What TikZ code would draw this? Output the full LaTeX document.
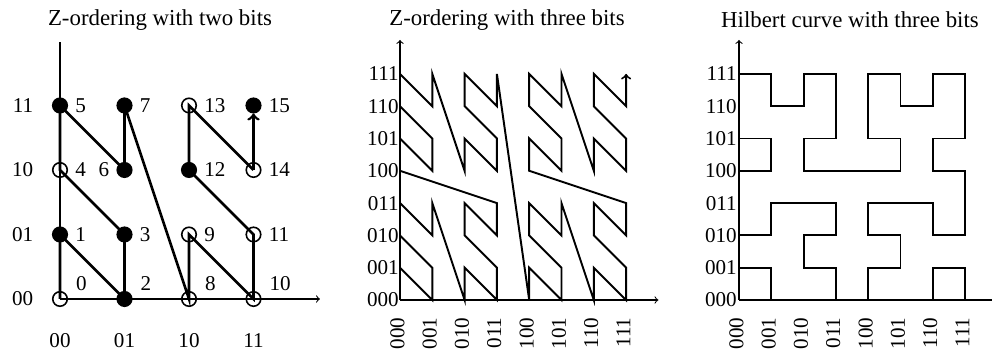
\documentclass[tikz,border=0pt]{standalone}
\usepackage{fontspec}
\setmainfont{Liberation Serif}
\usetikzlibrary{positioning}
\tikzset{
  axis/.style={line width=0.6pt},
  zpath/.style={line width=1.5pt},
  curve/.style={line width=1.1pt},
  dot/.style={circle,draw,fill=black,inner sep=0pt,minimum size=0.29cm,line width=0.9pt},
  hole/.style={circle,draw,inner sep=0pt,minimum size=0.29cm,line width=0.9pt},
  tick/.style={inner sep=0pt,font=\fontsize{12}{14}\selectfont},
  heading/.style={inner sep=0pt,font=\fontsize{13}{15}\selectfont}
}
\begin{document}
\begin{tikzpicture}
\useasboundingbox (0,0) rectangle (19.84,7.08);
\node[heading] (t1) at (3.2,6.68) {Z-ordering with two bits};
\node[heading] (t2) at (10.14,6.68) {Z-ordering with three bits};
\node[heading] (t3) at (17.0,6.68) {Hilbert curve with three bits};

\begin{scope}[shift={(1.2,1.1)},x=1.29cm,y=1.29cm]
	\draw[axis] (0,0) -- (0,3.98);
	\draw[axis,->] (0,0) -- (4.03,0);
	\node[hole] (p0) at (0,0) {};
	\node[dot] (p1) at (0,1) {};
	\node[dot] (p2) at (1,0) {};
	\node[dot] (p3) at (1,1) {};
	\node[hole] (p4) at (0,2) {};
	\node[dot] (p5) at (0,3) {};
	\node[dot] (p6) at (1,2) {};
	\node[dot] (p7) at (1,3) {};
	\node[hole] (p8) at (2,0) {};
	\node[hole] (p9) at (2,1) {};
	\node[hole] (p10) at (3,0) {};
	\node[hole] (p11) at (3,1) {};
	\node[dot] (p12) at (2,2) {};
	\node[hole] (p13) at (2,3) {};
	\node[hole] (p14) at (3,2) {};
	\node[dot] (p15) at (3,3) {};
	\draw[zpath] (p0.center) -- (p1.center) -- (p2.center) -- (p3.center)
		-- (p4.center) -- (p5.center) -- (p6.center) -- (p7.center)
		-- (p8.center) -- (p9.center) -- (p10.center) -- (p11.center)
		-- (p12.center) -- (p13.center) -- (p14.center);
	\draw[zpath,->] (p14.center) -- (p15.south);
	\node[tick,above right=0.04cm and 0.2cm of p0] (n0) {0};
	\node[tick,right=0.14cm of p1] (n1) {1};
	\node[tick,above right=0.04cm and 0.2cm of p2] (n2) {2};
	\node[tick,right=0.14cm of p3] (n3) {3};
	\node[tick,right=0.14cm of p4] (n4) {4};
	\node[tick,right=0.14cm of p5] (n5) {5};
	\node[tick,left=0.14cm of p6] (n6) {6};
	\node[tick,right=0.14cm of p7] (n7) {7};
	\node[tick,above right=0.04cm and 0.2cm of p8] (n8) {8};
	\node[tick,right=0.14cm of p9] (n9) {9};
	\node[tick,above right=0.04cm and 0.2cm of p10] (n10) {10};
	\node[tick,right=0.14cm of p11] (n11) {11};
	\node[tick,right=0.14cm of p12] (n12) {12};
	\node[tick,right=0.14cm of p13] (n13) {13};
	\node[tick,right=0.14cm of p14] (n14) {14};
	\node[tick,right=0.14cm of p15] (n15) {15};
	\node[tick,anchor=east] (r00) at (-0.41,0) {00};
	\node[tick,anchor=east] (r01) at (-0.41,1) {01};
	\node[tick,anchor=east] (r10) at (-0.41,2) {10};
	\node[tick,anchor=east] (r11) at (-0.41,3) {11};
	\node[tick] (c00) at (0,-0.65) {00};
	\node[tick] (c01) at (1,-0.65) {01};
	\node[tick] (c10) at (2,-0.65) {10};
	\node[tick] (c11) at (3,-0.65) {11};
\end{scope}

\begin{scope}[shift={(8.0,1.08)},x=0.646cm,y=0.646cm]
	\draw[curve,->] (0,0) -- (0,1) -- (1,0) -- (1,1) -- (0,2) -- (0,3) -- (1,2) -- (1,3)
		-- (2,0) -- (2,1) -- (3,0) -- (3,1) -- (2,2) -- (2,3) -- (3,2) -- (3,3)
		-- (0,4) -- (0,5) -- (1,4) -- (1,5) -- (0,6) -- (0,7) -- (1,6) -- (1,7)
		-- (2,4) -- (2,5) -- (3,4) -- (3,5) -- (2,6) -- (2,7) -- (3,6) -- (3,7)
		-- (4,0) -- (4,1) -- (5,0) -- (5,1) -- (4,2) -- (4,3) -- (5,2) -- (5,3)
		-- (6,0) -- (6,1) -- (7,0) -- (7,1) -- (6,2) -- (6,3) -- (7,2) -- (7,3)
		-- (4,4) -- (4,5) -- (5,4) -- (5,5) -- (4,6) -- (4,7) -- (5,6) -- (5,7)
		-- (6,4) -- (6,5) -- (7,4) -- (7,5) -- (6,6) -- (6,7) -- (7,6) -- (7,7);
	\draw[axis,->] (0,0) -- (8,0);
	\draw[axis,->] (0,0) -- (0,8.05);
	\node[tick,anchor=east] (zr000) at (-0.03,0) {000};
	\node[tick,anchor=east] (zr001) at (-0.03,1) {001};
	\node[tick,anchor=east] (zr010) at (-0.03,2) {010};
	\node[tick,anchor=east] (zr011) at (-0.03,3) {011};
	\node[tick,anchor=east] (zr100) at (-0.03,4) {100};
	\node[tick,anchor=east] (zr101) at (-0.03,5) {101};
	\node[tick,anchor=east] (zr110) at (-0.03,6) {110};
	\node[tick,anchor=east] (zr111) at (-0.03,7) {111};
	\node[tick,rotate=90,anchor=east] (zc000) at (-0.08,-0.53) {000};
	\node[tick,rotate=90,anchor=east] (zc001) at (0.92,-0.53) {001};
	\node[tick,rotate=90,anchor=east] (zc010) at (1.92,-0.53) {010};
	\node[tick,rotate=90,anchor=east] (zc011) at (2.92,-0.53) {011};
	\node[tick,rotate=90,anchor=east] (zc100) at (3.92,-0.53) {100};
	\node[tick,rotate=90,anchor=east] (zc101) at (4.92,-0.53) {101};
	\node[tick,rotate=90,anchor=east] (zc110) at (5.92,-0.53) {110};
	\node[tick,rotate=90,anchor=east] (zc111) at (6.92,-0.53) {111};
\end{scope}

\begin{scope}[shift={(14.78,1.08)},x=0.646cm,y=0.646cm]
	\draw[curve] (0,0) -- (0,1) -- (1,1) -- (1,0) -- (3,0) -- (3,1) -- (2,1) -- (2,2)
		-- (3,2) -- (3,3) -- (1,3) -- (1,2) -- (0,2) -- (0,4) -- (1,4) -- (1,5)
		-- (0,5) -- (0,7) -- (1,7) -- (1,6) -- (2,6) -- (2,7) -- (3,7) -- (3,5)
		-- (2,5) -- (2,4) -- (5,4) -- (5,5) -- (4,5) -- (4,7) -- (5,7) -- (5,6)
		-- (6,6) -- (6,7) -- (7,7) -- (7,5) -- (6,5) -- (6,4) -- (7,4) -- (7,2)
		-- (6,2) -- (6,3) -- (4,3) -- (4,2) -- (5,2) -- (5,1) -- (4,1) -- (4,0)
		-- (6,0) -- (6,1) -- (7,1) -- (7,0);
	\draw[axis,->] (0,0) -- (8.1,0);
	\draw[axis,->] (0,0) -- (0,8.05);
	\node[tick,anchor=east] (hr000) at (-0.06,0) {000};
	\node[tick,anchor=east] (hr001) at (-0.06,1) {001};
	\node[tick,anchor=east] (hr010) at (-0.06,2) {010};
	\node[tick,anchor=east] (hr011) at (-0.06,3) {011};
	\node[tick,anchor=east] (hr100) at (-0.06,4) {100};
	\node[tick,anchor=east] (hr101) at (-0.06,5) {101};
	\node[tick,anchor=east] (hr110) at (-0.06,6) {110};
	\node[tick,anchor=east] (hr111) at (-0.06,7) {111};
	\node[tick,rotate=90,anchor=east] (hc000) at (-0.08,-0.53) {000};
	\node[tick,rotate=90,anchor=east] (hc001) at (0.92,-0.53) {001};
	\node[tick,rotate=90,anchor=east] (hc010) at (1.92,-0.53) {010};
	\node[tick,rotate=90,anchor=east] (hc011) at (2.92,-0.53) {011};
	\node[tick,rotate=90,anchor=east] (hc100) at (3.92,-0.53) {100};
	\node[tick,rotate=90,anchor=east] (hc101) at (4.92,-0.53) {101};
	\node[tick,rotate=90,anchor=east] (hc110) at (5.92,-0.53) {110};
	\node[tick,rotate=90,anchor=east] (hc111) at (6.92,-0.53) {111};
\end{scope}
\end{tikzpicture}
\end{document}
